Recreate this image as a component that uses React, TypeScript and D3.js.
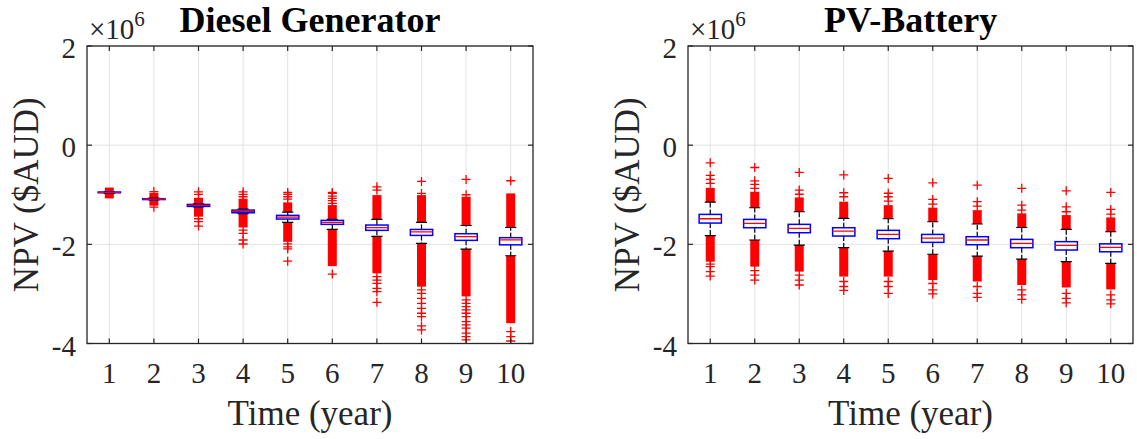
import React from "react";
import * as d3 from "d3";

// Values are in units of 1e6 $AUD
const years = [1, 2, 3, 4, 5, 6, 7, 8, 9, 10];
const yTicks = [-4, -2, 0, 2];

// ---------- Diesel Generator ----------
const dieselQ1 = [-0.96, -1.097, -1.235, -1.363, -1.49, -1.597, -1.718, -1.82, -1.92, -2.01];
const dieselMedian = [-0.953, -1.088, -1.215, -1.336, -1.45, -1.557, -1.665, -1.75, -1.846, -1.91];
const dieselQ3 = [-0.945, -1.08, -1.195, -1.309, -1.416, -1.517, -1.611, -1.7, -1.786, -1.866];
const dieselWhiskerHigh = [-0.935, -1.07, -1.185, -1.29, -1.35, -1.497, -1.497, -1.557, -1.62, -1.66];
const dieselWhiskerLow = [-0.972, -1.105, -1.245, -1.38, -1.557, -1.7, -1.84, -1.98, -2.095, -2.23];
// dense outlier clusters [top, bottom]
const dieselUpperBand = [
  [-0.855, -0.935], [-0.96, -1.07], [-1.06, -1.185], [-1.08, -1.29], [-1.154, -1.35],
  [-1.208, -1.497], [-1.007, -1.497], [-1.007, -1.557], [-1.04, -1.62], [-0.973, -1.66],
];
const dieselLowerBand = [
  [-0.972, -1.074], [-1.105, -1.22], [-1.245, -1.443], [-1.38, -1.66], [-1.557, -1.95],
  [-1.7, -2.44], [-1.84, -2.585], [-1.98, -2.854], [-2.095, -3.05], [-2.23, -3.59],
];
const dieselOutliers = [
  [],
  [-0.935, -1.25],
  [-0.94, -0.994, -1.484, -1.544, -1.631],
  [-0.94, -0.994, -1.04, -1.712, -1.779, -1.913, -1.993],
  [-0.953, -0.99, -1.04, -1.09, -1.99, -2.05, -2.09, -2.34],
  [-0.953, -0.973, -1.027, -1.074, -1.12, -1.175, -2.6],
  [-0.84, -0.906, -2.65, -2.72, -2.786, -2.887, -2.954, -3.17],
  [-0.732, -0.973, -2.92, -2.988, -3.089, -3.19, -3.29, -3.39, -3.457, -3.645, -3.726],
  [-0.69, -1.0, -3.12, -3.19, -3.256, -3.32, -3.39, -3.457, -3.56, -3.625, -3.69, -3.79, -3.86, -3.927],
  [-0.718, -3.76, -3.86, -3.95],
];

// ---------- PV-Battery ----------
const pvQ1 = [-1.571, -1.665, -1.766, -1.833, -1.886, -1.96, -2.008, -2.068, -2.115, -2.15];
const pvMedian = [-1.484, -1.578, -1.68, -1.732, -1.8, -1.873, -1.913, -1.98, -2.02, -2.06];
const pvQ3 = [-1.396, -1.497, -1.597, -1.665, -1.718, -1.8, -1.846, -1.9, -1.946, -1.99];
const pvWhiskerHigh = [-1.148, -1.262, -1.343, -1.477, -1.484, -1.545, -1.59, -1.66, -1.7, -1.746];
const pvWhiskerLow = [-1.826, -1.913, -2.014, -2.068, -2.135, -2.2, -2.236, -2.3, -2.35, -2.383];
const pvUpperBand = [
  [-0.86, -1.148], [-0.94, -1.262], [-1.054, -1.343], [-1.14, -1.477], [-1.21, -1.484],
  [-1.26, -1.545], [-1.31, -1.59], [-1.376, -1.66], [-1.41, -1.7], [-1.457, -1.746],
];
const pvLowerBand = [
  [-1.826, -2.35], [-1.913, -2.45], [-2.014, -2.55], [-2.068, -2.65], [-2.135, -2.65],
  [-2.2, -2.72], [-2.236, -2.75], [-2.3, -2.82], [-2.35, -2.87], [-2.383, -2.91],
];
const pvOutliers = [
  [-0.356, -0.61, -0.69, -0.77, -2.4, -2.45, -2.55, -2.64],
  [-0.45, -0.72, -0.79, -0.87, -2.53, -2.62, -2.72],
  [-0.55, -0.906, -0.99, -2.62, -2.72, -2.82],
  [-0.6, -0.96, -1.04, -2.75, -2.85, -2.93],
  [-0.67, -0.97, -1.04, -1.13, -2.75, -2.85, -2.99],
  [-0.76, -1.094, -1.19, -2.79, -2.92, -3.0],
  [-0.806, -1.14, -1.23, -2.85, -2.99, -3.07],
  [-0.87, -1.21, -1.31, -2.92, -3.02, -3.11],
  [-0.92, -1.243, -1.343, -2.99, -3.09, -3.18],
  [-0.953, -1.295, -1.39, -3.02, -3.12, -3.2],
];

const W = 1137;
const H = 439;
const TOP = 46;
const BOTTOM = 343.5;
const SERIF = "'Liberation Serif', 'Times New Roman', serif";
const AX = "#262626";

type PanelProps = {
  id: string;
  title: string;
  left: number;
  right: number;
  q1: number[];
  med: number[];
  q3: number[];
  wHi: number[];
  wLo: number[];
  upBand: number[][];
  loBand: number[][];
  outliers: number[][];
};

function Panel(p: PanelProps) {
  const x = d3.scaleLinear().domain([0.5, 10.5]).range([p.left, p.right]);
  const y = d3.scaleLinear().domain([-4, 2]).range([BOTTOM, TOP]);
  const boxHalf = (x(1.25) - x(1)) ;
  const capHalf = (x(1.125) - x(1));
  const mk = 4.5;
  const cxMid = (p.left + p.right) / 2;
  const tickLen = 5;
  return (
    <g>
      <defs>
        <clipPath id={`clip-${p.id}`}>
          <rect x={p.left} y={TOP} width={p.right - p.left} height={BOTTOM - TOP} />
        </clipPath>
      </defs>
      <rect x={p.left} y={TOP} width={p.right - p.left} height={BOTTOM - TOP} fill="#fff" />
      {/* grid */}
      {years.map((v) => (
        <line key={`gx${v}`} x1={x(v)} x2={x(v)} y1={TOP} y2={BOTTOM} stroke="#e3e3e3" strokeWidth={1} />
      ))}
      {yTicks.map((v) => (
        <line key={`gy${v}`} x1={p.left} x2={p.right} y1={y(v)} y2={y(v)} stroke="#e3e3e3" strokeWidth={1} />
      ))}
      <g clipPath={`url(#clip-${p.id})`}>
        {years.map((yr, i) => {
          const cx = x(yr);
          return (
            <g key={`b${yr}`}>
              {/* whiskers */}
              <line x1={cx} x2={cx} y1={y(p.q3[i])} y2={y(p.wHi[i])} stroke="#000" strokeWidth={1.2} strokeDasharray="5,2" />
              <line x1={cx} x2={cx} y1={y(p.q1[i])} y2={y(p.wLo[i])} stroke="#000" strokeWidth={1.2} strokeDasharray="5,2" />
              {/* dense outlier clusters */}
              <rect x={cx - mk} width={mk * 2} y={y(p.upBand[i][0])} height={Math.max(1, y(p.upBand[i][1]) - y(p.upBand[i][0]))} fill="#ff0000" />
              <rect x={cx - mk} width={mk * 2} y={y(p.loBand[i][0])} height={Math.max(1, y(p.loBand[i][1]) - y(p.loBand[i][0]))} fill="#ff0000" />
              {/* outliers */}
              {p.outliers[i].map((o, j) => (
                <path key={j} d={`M${cx - mk},${y(o)}h${mk * 2}M${cx},${y(o) - mk}v${mk * 2}`} stroke="#ff0000" strokeWidth={1.3} fill="none" />
              ))}
              {/* caps */}
              <line x1={cx - capHalf} x2={cx + capHalf} y1={y(p.wHi[i])} y2={y(p.wHi[i])} stroke="#000" strokeWidth={1.2} />
              <line x1={cx - capHalf} x2={cx + capHalf} y1={y(p.wLo[i])} y2={y(p.wLo[i])} stroke="#000" strokeWidth={1.2} />
              {/* box */}
              <rect x={cx - boxHalf} width={boxHalf * 2} y={y(p.q3[i])} height={Math.max(0.5, y(p.q1[i]) - y(p.q3[i]))} fill="none" stroke="#0000ff" strokeWidth={1.5} />
              <line x1={cx - boxHalf} x2={cx + boxHalf} y1={y(p.med[i])} y2={y(p.med[i])} stroke="#ff0000" strokeWidth={1.3} />
            </g>
          );
        })}
      </g>
      {/* axes frame */}
      <rect x={p.left} y={TOP} width={p.right - p.left} height={BOTTOM - TOP} fill="none" stroke={AX} strokeWidth={1.3} />
      {years.map((v) => (
        <g key={`tx${v}`}>
          <line x1={x(v)} x2={x(v)} y1={BOTTOM} y2={BOTTOM - tickLen} stroke={AX} strokeWidth={1.2} />
          <line x1={x(v)} x2={x(v)} y1={TOP} y2={TOP + tickLen} stroke={AX} strokeWidth={1.2} />
          <text x={x(v)} y={383} textAnchor="middle" fontFamily={SERIF} fontSize={29} fill={AX}>
            {v}
          </text>
        </g>
      ))}
      {yTicks.map((v) => (
        <g key={`ty${v}`}>
          <line x1={p.left} x2={p.left + tickLen} y1={y(v)} y2={y(v)} stroke={AX} strokeWidth={1.2} />
          <line x1={p.right} x2={p.right - tickLen} y1={y(v)} y2={y(v)} stroke={AX} strokeWidth={1.2} />
          <text x={p.left - 11} y={y(v) + 12} textAnchor="end" fontFamily={SERIF} fontSize={29} fill={AX}>
            {v < 0 ? `-${Math.abs(v)}` : `${v}`}
          </text>
        </g>
      ))}
      {/* exponent */}
      <text x={p.left + 2} y={39} fontFamily={SERIF} fontSize={29} fill={AX}>
        ×10
        <tspan dy={-13} fontSize={21}>6</tspan>
      </text>
      {/* title */}
      <text x={cxMid} y={32} textAnchor="middle" fontFamily={SERIF} fontWeight="bold" fontSize={36} fill="#000">
        {p.title}
      </text>
      {/* labels */}
      <text x={cxMid} y={425} textAnchor="middle" fontFamily={SERIF} fontSize={35} fill={AX}>
        Time (year)
      </text>
      <text
        transform={`translate(${p.left - 49.5},${(TOP + BOTTOM) / 2}) rotate(-90)`}
        textAnchor="middle"
        fontFamily={SERIF}
        fontSize={35}
        fill={AX}
      >
        NPV ($AUD)
      </text>
    </g>
  );
}

export default function App() {
  return (
    <svg width={W} height={H} style={{ position: "absolute", left: 0, top: 0, background: "#fff" }}>
      <rect width={W} height={H} fill="#fff" />
      <Panel
        id="diesel"
        title="Diesel Generator"
        left={87}
        right={533}
        q1={dieselQ1}
        med={dieselMedian}
        q3={dieselQ3}
        wHi={dieselWhiskerHigh}
        wLo={dieselWhiskerLow}
        upBand={dieselUpperBand}
        loBand={dieselLowerBand}
        outliers={dieselOutliers}
      />
      <Panel
        id="pv"
        title="PV-Battery"
        left={688}
        right={1133}
        q1={pvQ1}
        med={pvMedian}
        q3={pvQ3}
        wHi={pvWhiskerHigh}
        wLo={pvWhiskerLow}
        upBand={pvUpperBand}
        loBand={pvLowerBand}
        outliers={pvOutliers}
      />
    </svg>
  );
}
